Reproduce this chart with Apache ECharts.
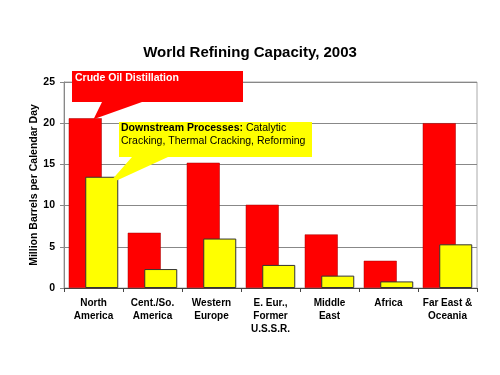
<!DOCTYPE html>
<html>
<head>
<meta charset="utf-8">
<script src="https://cdn.jsdelivr.net/npm/echarts@6/dist/echarts.min.js"></script>
<style>
    html, body {margin: 0; padding: 0; background: #fff;}
    #main {width: 500px; height: 375px;}
</style>
</head>
<body>
<div id="main"></div>
<script>
// 地区（x轴）
var regions = ['North\nAmerica', 'Cent./So.\nAmerica', 'Western\nEurope', 'E. Eur.,\nFormer\nU.S.S.R.', 'Middle\nEast', 'Africa', 'Far East &\nOceania'];
// 原油蒸馏能力
var crudeData = [20.6, 6.7, 15.2, 10.1, 6.5, 3.3, 20.0];
// 下游加工能力
var downstreamData = [13.5, 2.3, 6.0, 2.8, 1.5, 0.8, 5.3];
// y轴刻度
var yTicks = [0, 5, 10, 15, 20, 25];

var fontName = 'Liberation Sans, Arial, sans-serif';

var chart = echarts.init(document.getElementById('main'));
var option = {
    animation: false,
    title: {
        text: 'World Refining Capacity, 2003',
        left: 'center',
        top: 40,
        textStyle: {fontFamily: fontName, fontSize: 15, fontWeight: 'bold', color: '#000'}
    },
    grid: {
        left: 64, right: 23, top: 82, bottom: 87,
        show: true,
        borderColor: '#aaa',
        borderWidth: 1
    },
    xAxis: {
        type: 'category',
        data: regions,
        axisLine: {lineStyle: {color: '#444'}},
        axisTick: {show: true, length: 4, lineStyle: {color: '#444'}},
        axisLabel: {
            interval: 0,
            margin: 9,
            fontFamily: fontName,
            fontSize: 10,
            fontWeight: 'bold',
            color: '#000',
            lineHeight: 13
        }
    },
    yAxis: {
        type: 'value',
        min: yTicks[0],
        max: yTicks[yTicks.length - 1],
        interval: 5,
        name: 'Million Barrels per Calendar Day',
        nameLocation: 'middle',
        nameGap: 24,
        nameMoveOverlap: false,
        nameTextStyle: {fontFamily: fontName, fontSize: 10.5, fontWeight: 'bold', color: '#000'},
        axisLine: {show: true, lineStyle: {color: '#888'}},
        axisTick: {show: true, length: 4, lineStyle: {color: '#888'}},
        axisLabel: {margin: 9, fontFamily: fontName, fontSize: 10.5, fontWeight: 'bold', color: '#000'},
        splitLine: {lineStyle: {color: '#888'}}
    },
    series: [
        {
            name: 'Crude Oil Distillation',
            type: 'bar',
            data: crudeData,
            barWidth: 33,
            barGap: '-50%',
            itemStyle: {color: '#ff0000', borderColor: '#a00000', borderWidth: 0.5}
        },
        {
            name: 'Downstream Processes',
            type: 'bar',
            data: downstreamData,
            barWidth: 33,
            itemStyle: {color: '#ffff00', borderColor: '#333', borderWidth: 1}
        }
    ]
};
chart.setOption(option);

// 标注框：箭头指向北美柱子顶部
var redTip = chart.convertToPixel({gridIndex: 0}, [0, crudeData[0]]);
var yellowTip = chart.convertToPixel({gridIndex: 0}, [0, downstreamData[0]]);

chart.setOption({
    graphic: [
        {
            type: 'polygon',
            z: 100,
            shape: {points: [[72, 71], [243, 71], [243, 102], [142, 102], [redTip[0], redTip[1] + 1], [102, 102], [72, 102]]},
            style: {fill: '#ff0000'}
        },
        {
            type: 'text',
            z: 101,
            left: 75,
            top: 73,
            style: {text: 'Crude Oil Distillation', fill: '#fff', font: 'bold 10.5px ' + fontName}
        },
        {
            type: 'polygon',
            z: 100,
            shape: {points: [[119, 122], [312, 122], [312, 157], [168, 157], [yellowTip[0] + 14, yellowTip[1] + 8], [132, 157], [119, 157]]},
            style: {fill: '#ffff00'}
        },
        {
            type: 'text',
            z: 101,
            left: 121,
            top: 122,
            style: {
                text: '{b|Downstream Processes:} Catalytic\nCracking, Thermal Cracking, Reforming',
                fill: '#000',
                font: '10.5px ' + fontName,
                lineHeight: 13,
                rich: {
                    b: {fontFamily: fontName, fontSize: 10.5, fontWeight: 'bold', fill: '#000', lineHeight: 13}
                }
            }
        }
    ]
});
window.onresize = chart.resize;
</script>
</body>
</html>
